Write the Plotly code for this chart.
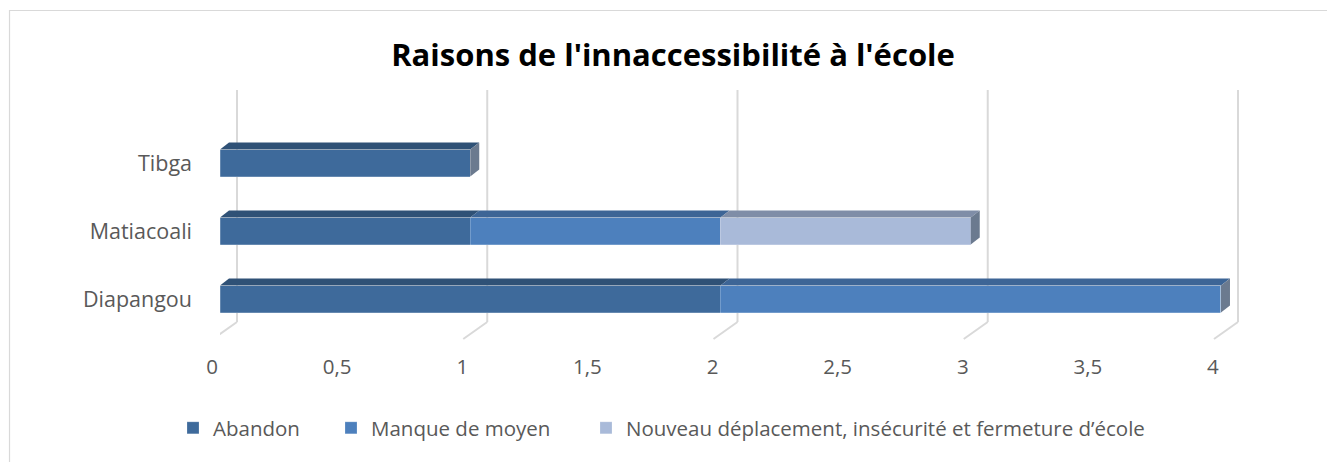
import plotly.graph_objects as go

# ---- data ----
categories = ["Diapangou", "Matiacoali", "Tibga"]
series_names = ["Abandon", "Manque de moyen", "Nouveau déplacement, insécurité et fermeture d’école"]
abandon = [2, 1, 1]
manque = [2, 1, 0]
nouveau = [0, 1, 0]
x_ticks = [0, 0.5, 1, 1.5, 2, 2.5, 3, 3.5, 4]
x_tick_labels = ["0", "0,5", "1", "1,5", "2", "2,5", "3", "3,5", "4"]
grid_values = [0, 1, 2, 3, 4]
title = "Raisons de l'innaccessibilité à l'école"

# ---- styling ----
front_colors = ["#3e6a9b", "#4d80bd", "#a9bad9"]
top_colors = ["#2f5176", "#3d6596", "#7f8da7"]
side_color = "#6b7a8f"
grid_color = "#d9d9d9"
text_color = "#595959"

W, H = 1327, 462
px_x = 250.25
px_y = 68.0
L = 220
T = 90
x_range = [0, 4.08]
y_range = [-(340 - 299) / px_y, 2 + (163 - 90) / px_y]
plot_w = (x_range[1] - x_range[0]) * px_x
plot_h = (y_range[1] - y_range[0]) * px_y
R = W - L - plot_w
B = H - T - plot_h
bar_w = 27 / px_y
dx = 9 / px_x
dy = 7 / px_y

ypos = list(range(len(categories)))
series = [abandon, manque, nouveau]
legend_ids = ["legend", "legend2", "legend3"]
legend_text_x = [213, 371, 626]

fig = go.Figure()
for name, vals, col, lg in zip(series_names, series, front_colors, legend_ids):
    fig.add_trace(go.Bar(
        y=ypos, x=vals, name=name, orientation="h", width=bar_w,
        marker=dict(color=col, line=dict(width=0.6, color="rgba(255,255,255,0.35)")),
        hoverinfo="x+name", legend=lg,
    ))

# 3D top faces and end side faces, derived from the data
for i, yc in enumerate(ypos):
    base = 0
    yt = yc + bar_w / 2
    yb = yc - bar_w / 2
    for vals, tc in zip(series, top_colors):
        v = vals[i]
        if v <= 0:
            continue
        x0, x1 = base, base + v
        fig.add_trace(go.Scatter(
            x=[x0, x1, x1 + dx, x0 + dx, x0], y=[yt, yt, yt + dy, yt + dy, yt],
            fill="toself", fillcolor=tc, mode="lines", line=dict(width=0),
            showlegend=False, hoverinfo="skip"))
        base = x1
    fig.add_trace(go.Scatter(
        x=[base, base + dx, base + dx, base, base], y=[yb, yb + dy, yt + dy, yt, yb],
        fill="toself", fillcolor=side_color, mode="lines", line=dict(width=0),
        showlegend=False, hoverinfo="skip"))

# back-wall gridlines and floor slants
shapes = []
back = 17 / px_x
floor_front = -7 / px_x
y_floor_back = y_range[1] - (322 - T) / px_y
y_floor_front = y_range[1] - (339 - T) / px_y
for t in grid_values:
    shapes.append(dict(type="line", xref="x", yref="y", x0=t + back, x1=t + back,
                       y0=y_range[1], y1=y_floor_back, layer="below",
                       line=dict(color=grid_color, width=2)))
    shapes.append(dict(type="line", xref="x", yref="y", x0=t + back, x1=t + floor_front,
                       y0=y_floor_back, y1=y_floor_front, layer="below",
                       line=dict(color=grid_color, width=2)))

# chart border
shapes.append(dict(type="rect", xref="paper", yref="paper",
                   x0=(9.5 - L) / plot_w, x1=(W + 5 - L) / plot_w,
                   y0=(T + plot_h - (H + 5)) / plot_h, y1=1 + (T - 10.5) / plot_h,
                   line=dict(color=grid_color, width=1.2), fillcolor="rgba(0,0,0,0)"))

legend_common = dict(orientation="h", xref="container", xanchor="left",
                     y=1 - 428 / H, yref="container", yanchor="middle",
                     font=dict(size=20.5, color=text_color, family="Open Sans"),
                     itemwidth=30, bgcolor="rgba(0,0,0,0)")

fig.update_layout(
    width=W, height=H,
    margin=dict(l=L, r=R, t=T, b=B, autoexpand=False),
    paper_bgcolor="white", plot_bgcolor="white",
    barmode="stack",
    shapes=shapes,
    title=dict(text=title, x=673 / W, xref="container", xanchor="center",
               y=1 - 55 / H, yref="container", yanchor="middle",
               font=dict(family="Open Sans", size=31, color="black", weight="bold")),
    font=dict(family="Open Sans", color=text_color, size=20),
    xaxis=dict(range=x_range, tickvals=x_ticks, ticktext=x_tick_labels,
               showgrid=False, zeroline=False, showline=False, automargin=False,
               ticklabelshift=-8, ticklabelstandoff=12,
               tickfont=dict(size=20.5, color=text_color), fixedrange=True),
    yaxis=dict(range=y_range, tickvals=ypos, ticktext=categories,
               showgrid=False, zeroline=False, showline=False, automargin=False,
               ticklabelstandoff=27,
               tickfont=dict(size=21.5, color=text_color), fixedrange=True),
    legend=dict(x=(legend_text_x[0] - 40) / W, **legend_common),
    legend2=dict(x=(legend_text_x[1] - 40) / W, **legend_common),
    legend3=dict(x=(legend_text_x[2] - 40) / W, **legend_common),
    showlegend=True,
)

fig.write_html("out.html", config={"displayModeBar": False},
               post_script="document.body.style.margin='0';")
